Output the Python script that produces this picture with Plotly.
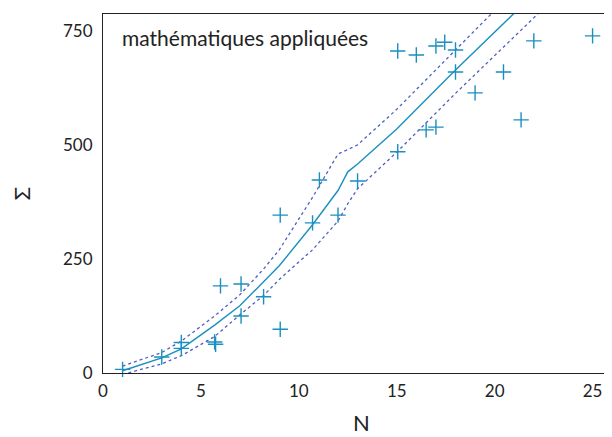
import plotly.graph_objects as go

# observed data
N_obs = [1, 1, 3, 4, 4, 5.7, 5.75, 6, 7.05, 7.05, 8.2, 9.05, 9.05, 10.7, 11.05, 12.0, 13.0,
         15.05, 15.05, 16.0, 16.5, 17.0, 17.0, 17.45, 18.0, 18.0, 19.0, 20.45, 21.35, 22.0, 25.0]
S_obs = [8, -6, 35, 67, 54, 68, 63, 191, 195, 125, 167, 346, 96, 329, 423, 346, 421,
         485, 706, 697, 533, 539, 717, 725, 708, 660, 614, 660, 555, 728, 739]

# fitted curve and band
fit_x = [1, 3, 4, 5.7, 7, 8.2, 9, 10.7, 12, 12.5, 13, 15, 18, 21, 23]
fit_mid = [5, 33, 53, 105, 148, 200, 235, 325, 400, 441, 458, 535, 664, 789, 873]
fit_hi = [15, 45, 70, 125, 172, 228, 270, 385, 480, 490, 500, 578, 709, 839, 925]
fit_lo = [-3, 20, 38, 80, 128, 170, 205, 270, 333, 371, 404, 484, 613, 737, 820]

x_ticks = [0, 5, 10, 15, 20, 25]
y_ticks = [0, 250, 500, 750]

teal = "#1b8fc0"
dotc = "#4d5fc0"
font = "Lato"

fig = go.Figure()
fig.add_trace(go.Scatter(x=fit_x, y=fit_hi, mode="lines",
                         line=dict(color=dotc, width=1.3, dash="dot"), showlegend=False))
fig.add_trace(go.Scatter(x=fit_x, y=fit_lo, mode="lines",
                         line=dict(color=dotc, width=1.3, dash="dot"), showlegend=False))
fig.add_trace(go.Scatter(x=fit_x, y=fit_mid, mode="lines",
                         line=dict(color=teal, width=1.4), showlegend=False))
fig.add_trace(go.Scatter(x=N_obs, y=S_obs, mode="markers", cliponaxis=False,
                         marker=dict(symbol="cross-thin", size=11,
                                     line=dict(color=teal, width=1.4)),
                         showlegend=False))

fig.add_annotation(text="mathématiques appliquées", xref="paper", yref="paper",
                   x=0.033, y=0.975, xanchor="left", yanchor="top", showarrow=False,
                   font=dict(family=font, size=21, color="#222"))

fig.update_layout(
    width=612, height=437,
    margin=dict(l=93, r=0, t=6, b=72),
    plot_bgcolor="white", paper_bgcolor="white",
    font=dict(family=font, size=17, color="#222"),
    xaxis=dict(range=[0, 26.4], tickvals=x_ticks, showgrid=False, zeroline=False,
               showline=True, linecolor="#222", linewidth=1.2, mirror=True,
               ticks="", ticklabelstandoff=2,
               title=dict(text="N", font=dict(family=font, size=22), standoff=16)),
    yaxis=dict(range=[0, 787], tickvals=y_ticks, showgrid=False, zeroline=False,
               showline=True, linecolor="#222", linewidth=1.2,
               ticks="", ticklabelstandoff=6,
               title=dict(text="Σ", font=dict(family=font, size=22), standoff=40)),
)

fig.write_html("out.html")
